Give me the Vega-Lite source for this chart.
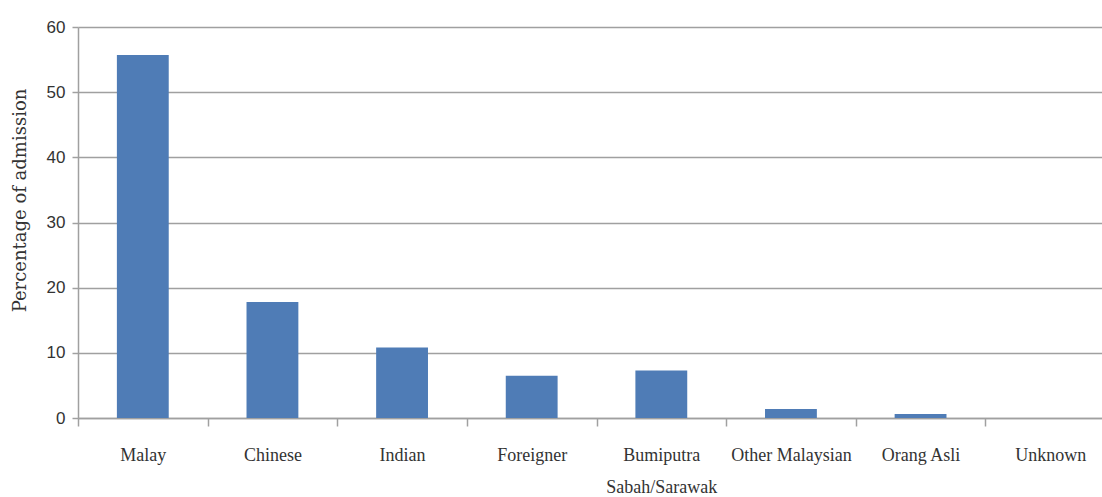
{
  "$schema": "https://vega.github.io/schema/vega-lite/v6.json",
  "width": 1024,
  "height": 391,
  "autosize": {"type": "none"},
  "padding": {"left": 78, "top": 27, "right": 0, "bottom": 79},
  "background": "white",
  "data": {"values": [
    {"group": "Malay", "pct": 55.7},
    {"group": "Chinese", "pct": 17.8},
    {"group": "Indian", "pct": 10.8},
    {"group": "Foreigner", "pct": 6.5},
    {"group": "Bumiputra Sabah/Sarawak", "pct": 7.3},
    {"group": "Other Malaysian", "pct": 1.4},
    {"group": "Orang Asli", "pct": 0.6},
    {"group": "Unknown", "pct": 0}
  ]},
  "mark": {"type": "bar", "color": "#4f7cb6", "width": {"band": 0.4}},
  "encoding": {
    "x": {
      "field": "group", "type": "nominal", "sort": null,
      "scale": {"range": [0, 1037], "paddingInner": 0, "paddingOuter": 0},
      "axis": {
        "title": null, "labelAngle": 0, "tickBand": "extent",
        "domainColor": "#a0a0a0", "domainWidth": 1.5,
        "tickColor": "#a0a0a0", "tickWidth": 1.5, "tickSize": 8,
        "labelFont": "Liberation Serif", "labelFontSize": 18, "labelColor": "#333333",
        "labelPadding": 20, "labelLineHeight": 32,
        "labelExpr": "datum.label == 'Bumiputra Sabah/Sarawak' ? ['Bumiputra', 'Sabah/Sarawak'] : datum.label"
      }
    },
    "y": {
      "field": "pct", "type": "quantitative",
      "scale": {"domain": [0, 60], "nice": false},
      "axis": {
        "title": "Percentage of admission", "values": [0, 10, 20, 30, 40, 50, 60],
        "grid": true, "gridColor": "#a0a0a0", "gridWidth": 1.5,
        "domainColor": "#a0a0a0", "domainWidth": 1.5,
        "tickColor": "#a0a0a0", "tickWidth": 1.5, "tickSize": 6,
        "labelFont": "Liberation Sans", "labelFontSize": 17, "labelColor": "#333333", "labelPadding": 7,
        "titleFont": "DejaVu Serif", "titleFontSize": 18, "titleFontWeight": "normal", "titleColor": "#333333",
        "titleX": -49, "titleY": 173
      }
    }
  },
  "config": {"view": {"stroke": null}}
}
